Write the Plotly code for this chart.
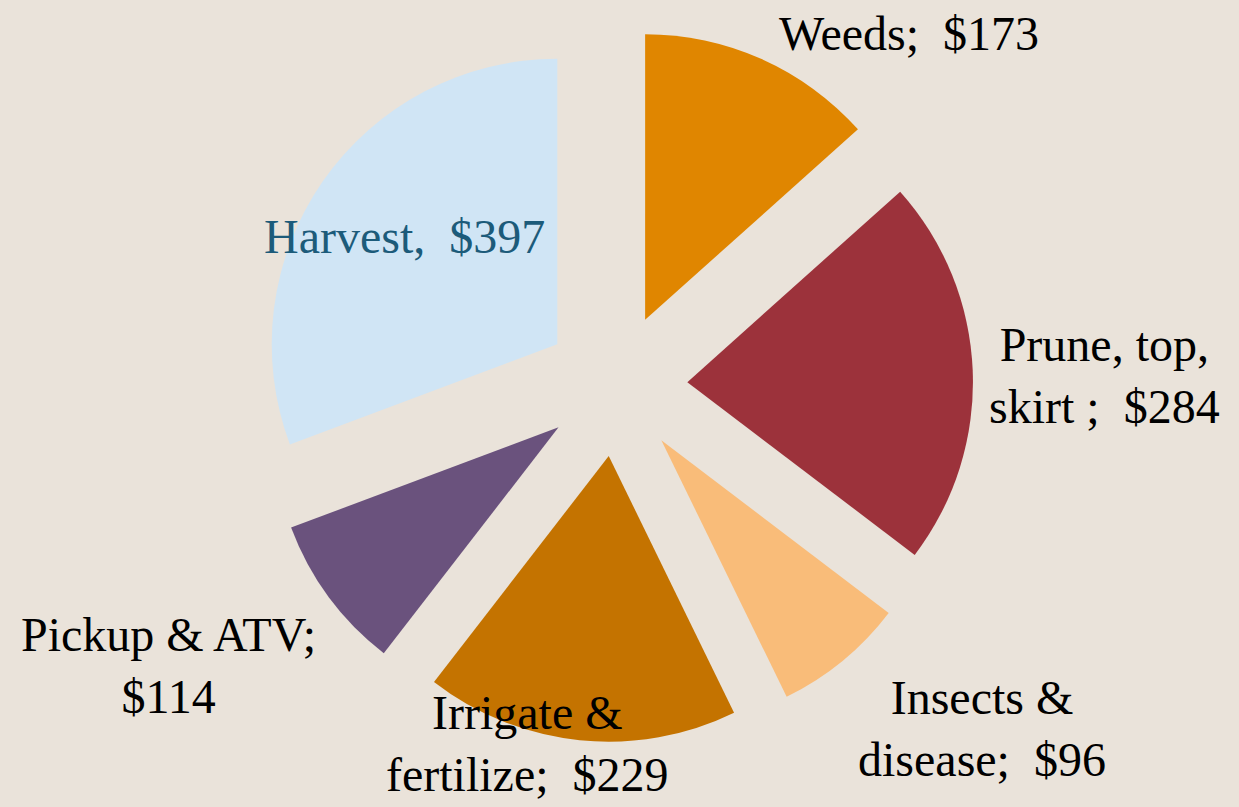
import plotly.graph_objects as go

categories = ["Weeds", "Prune, top, skirt", "Insects & disease", "Irrigate & fertilize", "Pickup & ATV", "Harvest"]
costs = [173, 284, 96, 229, 114, 397]
label_texts = [
    "Weeds;  $173",
    "Prune, top,<br>skirt ;  $284",
    "Insects &<br>disease;  $96",
    "Irrigate &<br>fertilize;  $229",
    "Pickup & ATV;<br>$114",
    "Harvest,  $397",
]
colors = ["#E08600", "#9C323B", "#F9BC79", "#C47300", "#6A527D", "#D0E5F5"]

W, H = 1239, 807
bg = "#EAE3DA"
font_family = "Liberation Serif, DejaVu Serif, serif"

fig = go.Figure()
fig.add_trace(go.Pie(
    labels=categories,
    values=costs,
    sort=False,
    direction="clockwise",
    rotation=0,
    pull=[0.25] * len(costs),
    marker=dict(colors=colors, line=dict(width=0)),
    textinfo="none",
    hoverinfo="label+value",
    showlegend=False,
    domain=dict(x=[258 / W, 974 / W], y=[1 - 742 / H, 1 - 28 / H]),
))

# label centres in pixels, as placed in the original slide
label_pos = [(909, 33), (1104, 375), (982, 728), (527, 743), (168, 665), (404, 237)]
label_colors = ["#000000"] * 5 + ["#1C5B7A"]

for txt, (px, py), c in zip(label_texts, label_pos, label_colors):
    fig.add_annotation(
        text=txt, xref="paper", yref="paper",
        x=px / W, y=1 - py / H, xanchor="center", yanchor="middle",
        showarrow=False, align="center",
        font=dict(family=font_family, size=48, color=c),
    )

fig.update_layout(
    width=W, height=H,
    margin=dict(l=0, r=0, t=0, b=0),
    paper_bgcolor=bg, plot_bgcolor=bg,
)

fig.write_html(
    "out.html",
    config={"displayModeBar": False},
    post_script="document.body.style.margin='0';",
)
